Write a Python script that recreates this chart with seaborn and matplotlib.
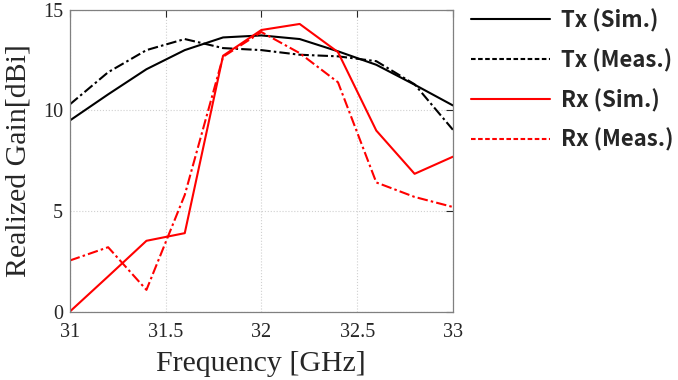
"""
Realized gain vs frequency (Tx / Rx, sim vs meas)
"""
import numpy as np
import matplotlib
matplotlib.use('Agg')
import matplotlib.pyplot as plt
from matplotlib.lines import Line2D
import seaborn as sns
import pandas as pd

freq = [31.0, 31.2, 31.4, 31.6, 31.8, 32.0, 32.2, 32.4, 32.6, 32.8, 33.0]
tx_sim = [9.5, 10.8, 12.05, 13.0, 13.63, 13.73, 13.55, 12.94, 12.27, 11.28, 10.25]
tx_meas = [10.3, 11.9, 13.0, 13.55, 13.1, 13.0, 12.77, 12.69, 12.45, 11.3, 9.04]
rx_sim = [0.0, 1.75, 3.52, 3.9, 12.72, 14.0, 14.3, 12.9, 9.0, 6.85, 7.7]
rx_meas = [2.54, 3.2, 1.08, 5.8, 12.67, 13.9, 12.85, 11.4, 6.42, 5.7, 5.2]

series = ['Tx (Sim.)', 'Tx (Meas.)', 'Rx (Sim.)', 'Rx (Meas.)']
colors = {'Tx (Sim.)': 'black', 'Tx (Meas.)': 'black', 'Rx (Sim.)': 'red', 'Rx (Meas.)': 'red'}
dashes = {'Tx (Sim.)': '', 'Tx (Meas.)': (5, 1.5, 1.2, 1.5),
          'Rx (Sim.)': '', 'Rx (Meas.)': (5, 1.5, 1.2, 1.5)}

df = pd.DataFrame({
    'freq': freq * 4,
    'gain': tx_sim + tx_meas + rx_sim + rx_meas,
    'series': np.repeat(series, len(freq)),
})

sns.set_style('white')
plt.rcParams['font.family'] = ['Liberation Serif', 'DejaVu Serif']

fig = plt.figure(figsize=(6.78, 3.8), dpi=100)
ax = fig.add_axes([0.103, 0.18, 0.565, 0.794])

sns.lineplot(data=df, x='freq', y='gain', hue='series', style='series',
             palette=colors, dashes=dashes, linewidth=1.5, ax=ax, legend=False)

ax.set_xlim(31, 33)
ax.set_ylim(0, 15)
ax.set_xticks([31, 31.5, 32, 32.5, 33])
ax.set_xticklabels(['31', '31.5', '32', '32.5', '33'])
ax.set_yticks([0, 5, 10, 15])
ax.grid(True, color='#d0d0d0', linestyle=':', linewidth=0.8)
ax.tick_params(direction='in', length=5, width=0.8, labelsize=14.5, colors='#262626',
               top=True, right=True, pad=5)
ax.tick_params(axis='x', pad=8)
for sp in ax.spines.values():
    sp.set_color('#808080')
    sp.set_linewidth(0.9)

ax.set_xlabel('Frequency [GHz]', fontsize=21.5, labelpad=7)
ax.set_ylabel('Realized Gain[dBi]', fontsize=21.5, labelpad=8)

# legend outside, plain dashed handles
handles = [
    Line2D([], [], color='black', lw=1.5),
    Line2D([], [], color='black', lw=1.5, ls='--', dashes=(2.2, 1.2)),
    Line2D([], [], color='red', lw=1.5),
    Line2D([], [], color='red', lw=1.5, ls='--', dashes=(2.2, 1.2)),
]
ax.legend(handles, series, loc='upper left', bbox_to_anchor=(0.995, 1.07),
          frameon=False, handlelength=3.55, handletextpad=0.5, labelspacing=0.74,
          prop={'family': ['Noto Sans CJK KR', 'DejaVu Sans'], 'weight': 'bold', 'size': 16})

fig.savefig('out.png', dpi=100)
